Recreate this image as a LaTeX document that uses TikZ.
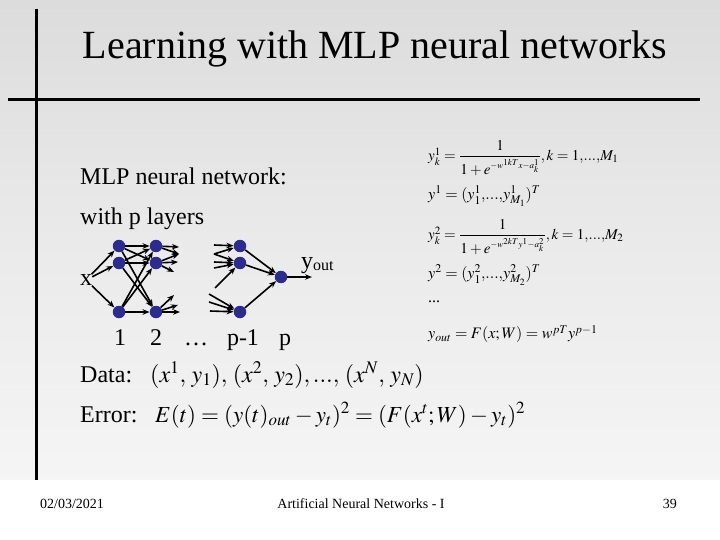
\documentclass[tikz,border=0pt]{standalone}
\usepackage{amsmath}
\usepackage{mathptmx}
\usepackage{fontspec}
\setmainfont{Liberation Serif}
\usepackage{tikz}
\usetikzlibrary{positioning, arrows.meta}
\definecolor{bgTop}     {HTML}{DCDCDC}
\definecolor{bgBottom}  {HTML}{FFFFFF}
\definecolor{neuronBlue}{HTML}{2C2C8E}

\tikzset{
  neuron/.style={circle, fill=neuronBlue, inner sep=0pt, minimum size=12.5pt},
  conn/.style={-{Stealth[length=7pt, width=5.5pt]}, line width=1.6pt},
  bigtxt/.style={font=\fontsize{24}{27}\selectfont, inner sep=0pt},
  eqtxt/.style={font=\fontsize{16}{19}\selectfont, anchor=west, inner sep=0pt},
}

\begin{document}
\begin{tikzpicture}[x=1pt, y=-1pt]
  \useasboundingbox (0,0) rectangle (720,540);
  % slide background
  \shade[top color=bgTop, bottom color=bgBottom!96!black, middle color=bgTop!60!bgBottom]
        (0,0) rectangle (720,480);
  \fill[bgBottom] (0,480) rectangle (720,540);
  \draw[line width=3pt] (36,9) -- (36,480);
  \draw[line width=3pt] (8,100) -- (700,100);

  \node[font=\fontsize{40}{45}\selectfont, inner sep=0pt] (title) at (375,49)
        {Learning with MLP neural networks};

  \node[bigtxt, anchor=base west] (mlp) at (80,185) {MLP neural network:};
  \node[bigtxt, anchor=base west] (layers) at (80,225) {with p layers};

  % neurons
  \node[neuron] (n1a) at (119,246) {};
  \node[neuron] (n1b) at (119,263) {};
  \node[neuron] (n1c) at (119,312) {};
  \node[neuron] (n2a) at (156,246) {};
  \node[neuron] (n2b) at (156,263) {};
  \node[neuron] (n2c) at (156,312) {};
  \node[neuron] (n3a) at (240,246) {};
  \node[neuron] (n3b) at (240,263) {};
  \node[neuron] (n3c) at (240,312) {};
  \node[neuron] (nout) at (281,277) {};

  \node[bigtxt] (xin) at (86,280) {x};
  \node[bigtxt, anchor=base west] (yout) at (301,268)
        {y\raisebox{-2pt}{\fontsize{16}{18}\selectfont out}};
  \coordinate (yend) at (312,277);

  \foreach \j in {a,b,c}
    \draw[conn] (xin) -- (n1\j);
  \foreach \i in {a,b,c}
    \foreach \j in {a,b,c}
      \draw[conn] (n1\i) -- (n2\j);

  % loose ends after layer 2
  \coordinate (o2a) at (179,247);
  \coordinate (o2b) at (179,254);
  \coordinate (o2c) at (178,262);
  \coordinate (o2d) at (174,272);
  \coordinate (o2e) at (174,295);
  \coordinate (o2f) at (178,305);
  \coordinate (o2g) at (180,312);
  \draw[conn] (n2a) -- (o2a);
  \draw[conn] (n2a) -- (o2b);
  \draw[conn] (n2b) -- (o2b);
  \draw[conn] (n2b) -- (o2c);
  \draw[conn] (n2b) -- (o2d);
  \draw[conn] (n2c) -- (o2e);
  \draw[conn] (n2c) -- (o2f);
  \draw[conn] (n2c) -- (o2g);

  % loose ends before layer p-1
  \coordinate (i3a) at (214,245);
  \coordinate (i3b) at (214,254);
  \coordinate (i3c) at (214,262);
  \coordinate (i3d) at (214,268);
  \coordinate (i3e) at (215,288);
  \coordinate (i3f) at (209,294);
  \coordinate (i3g) at (209,302);
  \coordinate (i3h) at (210,311);
  \draw[conn] (i3a) -- (n3a);
  \draw[conn] (i3b) -- (n3a);
  \draw[conn] (i3b) -- (n3b);
  \draw[conn] (i3c) -- (n3b);
  \draw[conn] (i3d) -- (n3b);
  \draw[conn] (i3e) -- (n3b);
  \draw[conn] (i3f) -- (n3c);
  \draw[conn] (i3g) -- (n3c);
  \draw[conn] (i3h) -- (n3c);

  \foreach \j in {a,b,c}
    \draw[conn] (n3\j) -- (nout);
  \draw[conn] (nout) -- (yend);

  % layer numbers
  \node[bigtxt, anchor=base] (lab1) at (120,345) {1};
  \node[bigtxt, anchor=base] (lab2) at (156,345) {2};
  \node[bigtxt, anchor=base] (labdots) at (196,345) {\dots};
  \node[bigtxt, anchor=base] (labpm) at (243,345) {p-1};
  \node[bigtxt, anchor=base] (labp) at (285,345) {p};

  % layer equations
  \node[eqtxt, font=\fontsize{15}{18}\selectfont] (eq1) at (428,158)
        {$y^1_k=\dfrac{1}{1+e^{\scriptscriptstyle -w^{1kT}x-a^1_k}},k=1,\!...,\!M_1$};
  \node[eqtxt] (eq2) at (428,196) {$y^1=(y^1_1,\!...,\!y^1_{M_1})^T$};
  \node[eqtxt, font=\fontsize{15}{18}\selectfont] (eq3) at (428,237)
        {$y^2_k=\dfrac{1}{1+e^{\scriptscriptstyle -w^{2kT}y^1-a^2_k}},k=1,\!...,\!M_2$};
  \node[eqtxt] (eq4) at (428,275) {$y^2=(y^2_1,\!...,\!y^2_{M_2})^T$};
  \node[eqtxt] (eq5) at (428,302) {...};
  \node[eqtxt] (eq6) at (428,334) {$y_{out}=F(x;W)=w^{pT}y^{p-1}$};

  % data and error
  \node[bigtxt, anchor=base west] (data) at (80,382) {Data:};
  \node[font=\fontsize{24}{28}\selectfont, anchor=base west, inner sep=0pt] (datafm)
        at (150,382) {$(x^1,\,y_1),\,(x^2,\,y_2),...,\,(x^N,\,y_N)$};
  \node[bigtxt, anchor=base west] (err) at (80,422) {Error:};
  \node[font=\fontsize{23}{27}\selectfont, anchor=base west, inner sep=0pt] (errfm)
        at (155,422) {$E(t)=(y(t)_{out}-y_t)^2=(F(x^t;W)-y_t)^2$};

  % footer
  \node[font=\fontsize{14}{16}\selectfont, anchor=base west, inner sep=0pt] (date)
        at (40,508) {02/03/2021};
  \node[font=\fontsize{14}{16}\selectfont, anchor=base, inner sep=0pt] (course)
        at (361,508) {Artificial Neural Networks - I};
  \node[font=\fontsize{14}{16}\selectfont, anchor=base east, inner sep=0pt] (page)
        at (677,508) {39};
\end{tikzpicture}
\end{document}
